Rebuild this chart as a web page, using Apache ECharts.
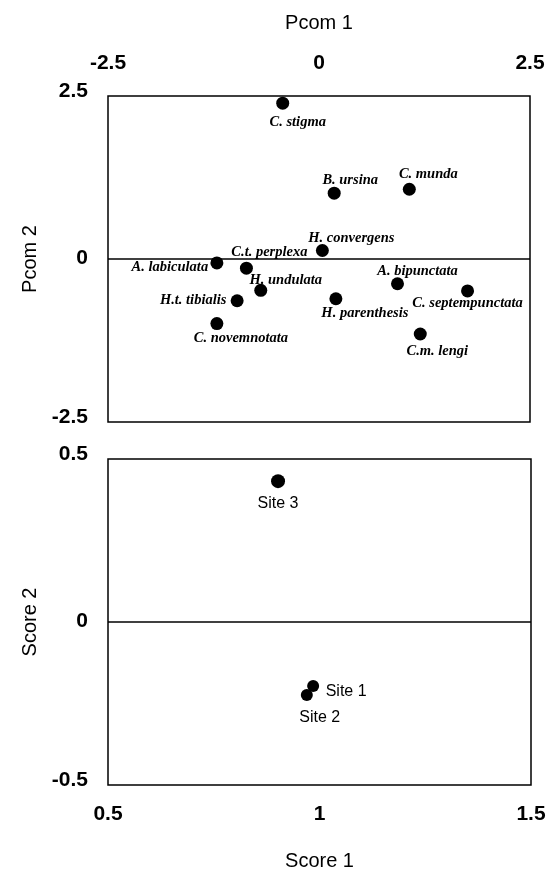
<!DOCTYPE html>
<html>
<head>
<meta charset="utf-8">
<script src="https://cdn.jsdelivr.net/npm/echarts@6/dist/echarts.min.js"></script>
<style>html,body{margin:0;padding:0;background:#fff;}#c{width:549px;height:874px;}</style>
</head>
<body>
<div id="c"></div>
<script>
// Species ordination (top panel)
var speciesNames = ['C. stigma','B. ursina','C. munda','H. convergens','A. bipunctata','C. septempunctata','H. parenthesis','C.m. lengi','H. undulata','C.t. perplexa','A. labiculata','H.t. tibialis','C. novemnotata'];
var pcom1 = [-0.43, 0.18, 1.07, 0.04, 0.93, 1.76, 0.20, 1.20, -0.69, -0.86, -1.21, -0.97, -1.21];
var pcom2 = [2.39, 1.01, 1.07, 0.13, -0.38, -0.49, -0.61, -1.15, -0.48, -0.14, -0.06, -0.64, -0.99];
// label placement (offsets in px from marker centre)
var speciesLabelOffset = [[15,19],[16,-13],[19,-15],[29,-12],[20,-13],[0,12],[29,14],[17,17],[25,-10],[23,-16],[-47,4],[-44,0],[24,15]];

// Sites (bottom panel)
var siteNames = ['Site 1','Site 2','Site 3'];
var score1 = [0.985, 0.970, 0.902];
var score2 = [-0.196, -0.224, 0.432];
var siteLabelOffset = [[33,6],[13,23],[0,22]];

var topTicks = [-2.5, 0, 2.5];
var bottomXTicks = [0.5, 1, 1.5];
var bottomYTicks = [-0.5, 0, 0.5];

var tickFont = {fontFamily:'Liberation Sans, Arial', fontWeight:'bold', fontSize:21, color:'#000'};
var nameFont = {fontFamily:'Liberation Sans, Arial', fontWeight:'normal', fontSize:20, color:'#000'};

var speciesData = speciesNames.map(function(n,i){
  return {name:n, value:[pcom1[i], pcom2[i]], label:{offset:speciesLabelOffset[i]}};
});
var siteData = siteNames.map(function(n,i){
  return {name:n, value:[score1[i], score2[i]], symbolSize: (n==='Site 3'?14:12), label:{offset:siteLabelOffset[i]}};
});

var yLabel = {
  margin:20,
  formatter:function(v){ return (v === 0 ? '{z|' : '{t|') + v + '}'; },
  rich:{
    t:Object.assign({padding:[0,0,10,0]}, tickFont),
    z:Object.assign({padding:[0,0,2,0]}, tickFont)
  }
};

var chart = echarts.init(document.getElementById('c'), null, {renderer:'canvas'});
chart.setOption({
  animation:false,
  backgroundColor:'#fff',
  grid:[
    {left:108, top:96, width:422, height:326, show:true, borderColor:'#000', borderWidth:1.5, backgroundColor:'transparent'},
    {left:108, top:459, width:423, height:326, show:true, borderColor:'#000', borderWidth:1.5, backgroundColor:'transparent'}
  ],
  xAxis:[
    {gridIndex:0, type:'value', position:'top', min:topTicks[0], max:topTicks[2], interval:2.5,
     axisLine:{show:false}, axisTick:{show:false}, splitLine:{show:false},
     axisLabel:Object.assign({margin:22}, tickFont),
     name:'Pcom 1', nameLocation:'middle', nameGap:63, nameTextStyle:nameFont},
    {gridIndex:1, type:'value', position:'bottom', min:bottomXTicks[0], max:bottomXTicks[2], interval:0.5,
     axisLine:{show:false}, axisTick:{show:false}, splitLine:{show:false},
     axisLabel:Object.assign({margin:19}, tickFont),
     name:'Score 1', nameLocation:'middle', nameGap:66, nameTextStyle:nameFont}
  ],
  yAxis:[
    {gridIndex:0, type:'value', min:topTicks[0], max:topTicks[2], interval:2.5,
     axisLine:{show:false}, axisTick:{show:false}, splitLine:{show:false},
     axisLabel:yLabel,
     name:'Pcom 2', nameLocation:'middle', nameGap:68, nameTextStyle:nameFont},
    {gridIndex:1, type:'value', min:bottomYTicks[0], max:bottomYTicks[2], interval:0.5,
     axisLine:{show:false}, axisTick:{show:false}, splitLine:{show:false},
     axisLabel:yLabel,
     name:'Score 2', nameLocation:'middle', nameGap:68, nameTextStyle:nameFont}
  ],
  series:[
    {type:'scatter', xAxisIndex:0, yAxisIndex:0, data:speciesData, symbol:'circle', symbolSize:13,
     itemStyle:{color:'#000', opacity:1},
     emphasis:{disabled:true},
     label:{show:true, position:'inside', formatter:'{b}', align:'center', verticalAlign:'middle',
            fontFamily:'Liberation Serif, Times New Roman', fontStyle:'italic', fontWeight:'bold', fontSize:14.5, color:'#000', opacity:1},
     markLine:{silent:true, symbol:['none','none'], label:{show:false}, lineStyle:{color:'#000', width:1.5, type:'solid'},
               data:[{yAxis:0}]}},
    {type:'scatter', xAxisIndex:1, yAxisIndex:1, data:siteData, symbol:'circle',
     itemStyle:{color:'#000', opacity:1},
     emphasis:{disabled:true},
     label:{show:true, position:'inside', formatter:'{b}', align:'center', verticalAlign:'middle',
            fontFamily:'Liberation Sans, Arial', fontSize:16, color:'#000', opacity:1},
     markLine:{silent:true, symbol:['none','none'], label:{show:false}, lineStyle:{color:'#000', width:1.5, type:'solid'},
               data:[{yAxis:0}]}}
  ]
});
</script>
</body>
</html>
